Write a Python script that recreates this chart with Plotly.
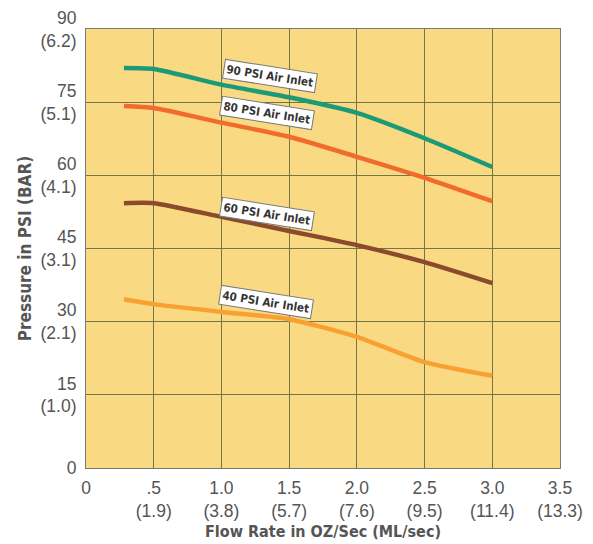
import plotly.graph_objects as go

flow = [0.28, 0.5, 1.0, 1.5, 2.0, 2.5, 3.0]
psi90 = [82.0, 81.8, 78.6, 76.0, 72.8, 67.6, 61.7]
psi80 = [74.2, 73.8, 70.8, 67.9, 63.8, 59.5, 54.7]
psi60 = [54.3, 54.3, 51.5, 48.6, 45.7, 42.2, 37.9]
psi40 = [34.6, 33.6, 32.0, 30.5, 26.9, 21.7, 18.9]

series_names = ["90 PSI Air Inlet", "80 PSI Air Inlet", "60 PSI Air Inlet", "40 PSI Air Inlet"]
series_colors = ["#1B9A78", "#F26A2C", "#8A4A2C", "#F9A032"]
label_x = [1.36, 1.34, 1.34, 1.33]
label_y = [80.4, 72.8, 52.1, 34.0]

PAD = "\u200b\u00a0\u00a0"
x_tickvals = [0, 0.5, 1.0, 1.5, 2.0, 2.5, 3.0, 3.5]
x_ticktext = ["0", ".5<br>(1.9)", "1.0<br>(3.8)", "1.5<br>(5.7)", "2.0<br>(7.6)",
              "2.5<br>(9.5)", "3.0<br>(11.4)", "3.5<br>(13.3)"]
y_tickvals = [0, 15, 30, 45, 60, 75, 90]
y_ticktext = ["0", PAD + "15<br>(1.0)", PAD + "30<br>(2.1)", PAD + "45<br>(3.1)", PAD + "60<br>(4.1)",
              PAD + "75<br>(5.1)", PAD + "90<br>(6.2)"]

fig = go.Figure()
for name, ys, col in zip(series_names, [psi90, psi80, psi60, psi40], series_colors):
    fig.add_trace(go.Scatter(x=flow, y=ys, mode="lines", name=name,
                             line=dict(color=col, width=4.5, shape="spline", smoothing=0.6),
                             showlegend=False, hoverinfo="skip"))

for name, lx, ly in zip(series_names, label_x, label_y):
    fig.add_annotation(x=lx, y=ly, text="<b>" + name + "</b>", showarrow=False,
                       textangle=9, bgcolor="white", bordercolor="#777777", borderwidth=1,
                       borderpad=2,
                       font=dict(family="Liberation Sans Narrow, DejaVu Sans Condensed, Arial Narrow, sans-serif",
                                 size=11.5, color="#333333"))

tick_font = dict(family="Liberation Sans, Arial, sans-serif", size=17.5, color="#555555")
title_font = dict(family="Liberation Sans Narrow, DejaVu Sans Condensed, Arial Narrow, sans-serif",
                  size=16, color="#555555")

# page has an 8px body margin, so the figure is sized to the visible area
fig.update_layout(
    width=585, height=536,
    margin=dict(l=78, r=33, t=21, b=76),
    paper_bgcolor="white",
    plot_bgcolor="#F9DA82",
    xaxis=dict(range=[0, 3.5], tickvals=x_tickvals, ticktext=x_ticktext,
               tickfont=tick_font, showgrid=True, gridcolor="#75754A", gridwidth=1,
               zeroline=False, showline=True, linecolor="#7A7A7A", linewidth=1, mirror=True,
               ticks="", ticklabelstandoff=4, automargin=False, ticklabeloverflow="allow",
               title=dict(text="<b>Flow Rate in OZ/Sec (ML/sec)</b>", font=title_font, standoff=6)),
    yaxis=dict(range=[0, 90], tickvals=y_tickvals, ticktext=y_ticktext,
               tickfont=tick_font, showgrid=True, gridcolor="#75754A", gridwidth=1,
               zeroline=False, showline=True, linecolor="#7A7A7A", linewidth=1, mirror=True,
               ticks="", ticklabelstandoff=5, automargin=False, ticklabeloverflow="allow",
               title=dict(text="<b>Pressure in PSI (BAR)</b>", font=dict(title_font, size=17), standoff=4)),
)

fig.write_html("out.html")
